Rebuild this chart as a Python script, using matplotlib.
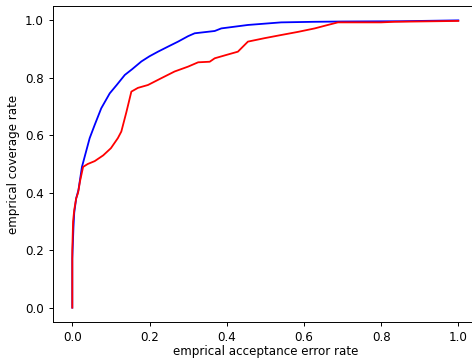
import matplotlib
matplotlib.use("Agg")
import matplotlib.pyplot as plt

blue_x = [0.0, 0.0, 0.003, 0.005, 0.01, 0.016, 0.025, 0.036, 0.045, 0.058, 0.075,
          0.097, 0.115, 0.136, 0.155, 0.179, 0.2, 0.222, 0.25, 0.274, 0.3, 0.317,
          0.369, 0.386, 0.455, 0.541, 0.627, 0.7, 0.85, 1.0]
blue_y = [0.0, 0.17, 0.28, 0.33, 0.38, 0.41, 0.49, 0.545, 0.59, 0.636, 0.694,
          0.746, 0.775, 0.81, 0.83, 0.857, 0.875, 0.891, 0.91, 0.926, 0.945, 0.955,
          0.963, 0.972, 0.984, 0.993, 0.995, 0.996, 0.997, 1.0]

red_x = [0.0, 0.0, 0.002, 0.005, 0.01, 0.015, 0.02, 0.028, 0.04, 0.058, 0.08,
         0.1, 0.118, 0.127, 0.14, 0.153, 0.17, 0.196, 0.231, 0.265, 0.3, 0.326,
         0.356, 0.369, 0.4, 0.429, 0.455, 0.498, 0.541, 0.585, 0.628, 0.662,
         0.688, 0.8, 0.834, 1.0]
red_y = [0.0, 0.2, 0.3, 0.34, 0.38, 0.40, 0.44, 0.49, 0.50, 0.51, 0.53,
         0.555, 0.59, 0.613, 0.68, 0.752, 0.765, 0.775, 0.799, 0.822, 0.839, 0.854,
         0.856, 0.868, 0.88, 0.891, 0.926, 0.938, 0.949, 0.96, 0.972, 0.984,
         0.993, 0.993, 0.995, 0.998]

plt.rcParams['font.size'] = 8.6

fig = plt.figure(figsize=(4.72, 3.59), dpi=100)
ax = fig.add_axes([53 / 472, (359 - 322) / 359, 424.6 / 472, 316.0 / 359])
ax.plot(blue_x, blue_y, color='blue', linewidth=1.3)
ax.plot(red_x, red_y, color='red', linewidth=1.3)
ax.set_xlim(-0.05, 1.05)
ax.set_ylim(-0.05, 1.05)
ax.set_xlabel('emprical acceptance error rate', labelpad=1)
ax.set_ylabel('emprical coverage rate')
for s in ax.spines.values():
    s.set_linewidth(0.7)
ax.tick_params(width=0.7, length=3)

plt.savefig('out.png', dpi=100)
